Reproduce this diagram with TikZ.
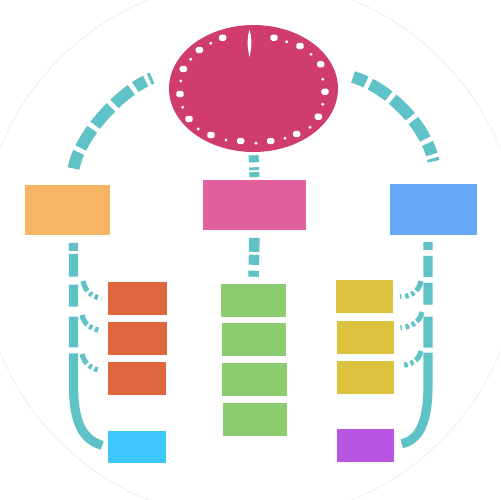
\documentclass[tikz,border=0pt]{standalone}
\usetikzlibrary{shapes.geometric}
\definecolor{ellc}{HTML}{D03C6C}
\definecolor{tealc}{HTML}{5FC2C7}
\definecolor{orangec}{HTML}{F5B565}
\definecolor{pinkc}{HTML}{E35E9C}
\definecolor{bluec}{HTML}{66A8F6}
\definecolor{greenc}{HTML}{8BCC6F}
\definecolor{redc}{HTML}{DE673D}
\definecolor{cyanc}{HTML}{3DC7FA}
\definecolor{yellowc}{HTML}{DDC23E}
\definecolor{purplec}{HTML}{B856E3}
\definecolor{bgcirc}{HTML}{F1EEE2}
\tikzset{
  boxnode/.style={rectangle, inner sep=0pt, outer sep=0pt},
  link/.style={draw=tealc},
  arcL/.style={link, line width=6.8pt,
    dash pattern=on 1.7pt off 2.3pt on 6.8pt off 2.8pt on 12.5pt off 2.8pt on 13.6pt off 2.8pt on 12.5pt off 2.8pt on 9.6pt off 20pt},
  arcR/.style={link, line width=6.8pt,
    dash pattern=on 7.9pt off 2.8pt on 12.5pt off 2.8pt on 14.2pt off 2.8pt on 12.5pt off 2.8pt on 6.8pt off 2.3pt on 1.7pt off 20pt},
  trunkL/.style={link, line width=5.2pt,
    dash pattern=on 0pt off 4.5pt on 4.5pt off 1.7pt on 13pt off 4.5pt on 12.5pt off 5.7pt on 17.6pt off 3.4pt on 200pt},
  trunkR/.style={link, line width=5.2pt,
    dash pattern=on 0pt off 4pt on 4.5pt off 3.4pt on 11.9pt off 3.4pt on 12.5pt off 6.8pt on 17.6pt off 2.8pt on 200pt},
  branch/.style={link, line width=2.9pt,
    dash pattern=on 6.2pt off 1.7pt on 1.8pt off 1.7pt on 2pt off 2.2pt on 2.5pt off 20pt},
  bigdot/.style={fill=white, rounded corners=1pt},
}
\begin{document}
\begin{tikzpicture}[x=0.02cm,y=-0.02cm]
\useasboundingbox (0,0) rectangle (500,500);
\clip (0,0) rectangle (500,500);
\fill[white] (0,0) rectangle (500,500);
\draw[bgcirc, line width=0.45pt] (250,250) circle (270);

% top ellipse
\node[ellipse, fill=ellc, inner sep=0pt, minimum width=3.38cm, minimum height=2.54cm] (ell) at (253.5,88.5) {};

% boxes
\node[boxnode, fill=orangec, minimum width=1.7cm, minimum height=1cm] (orange) at (67.5,210) {};
\node[boxnode, fill=pinkc, minimum width=2.06cm, minimum height=1cm] (pink) at (254.5,205) {};
\node[boxnode, fill=bluec, minimum width=1.74cm, minimum height=1.02cm] (blue) at (433.5,209.5) {};

\node[boxnode, fill=greenc, minimum width=1.3cm, minimum height=0.66cm] (g1) at (253.5,300.5) {};
\node[boxnode, fill=greenc, minimum width=1.3cm, minimum height=0.66cm] (g2) at (254,339.5) {};
\node[boxnode, fill=greenc, minimum width=1.3cm, minimum height=0.66cm] (g3) at (254.5,379.5) {};
\node[boxnode, fill=greenc, minimum width=1.3cm, minimum height=0.66cm] (g4) at (255,419.5) {};

\node[boxnode, fill=redc, minimum width=1.18cm, minimum height=0.66cm] (r1) at (137.5,298) {};
\node[boxnode, fill=redc, minimum width=1.18cm, minimum height=0.66cm] (r2) at (137.5,338.5) {};
\node[boxnode, fill=redc, minimum width=1.18cm, minimum height=0.66cm] (r3) at (137,378.5) {};
\node[boxnode, fill=cyanc, minimum width=1.16cm, minimum height=0.64cm] (cy) at (137,447) {};

\node[boxnode, fill=yellowc, minimum width=1.14cm, minimum height=0.66cm] (y1) at (364.5,296.5) {};
\node[boxnode, fill=yellowc, minimum width=1.14cm, minimum height=0.66cm] (y2) at (365,337.5) {};
\node[boxnode, fill=yellowc, minimum width=1.14cm, minimum height=0.66cm] (y3) at (365,377.5) {};
\node[boxnode, fill=purplec, minimum width=1.14cm, minimum height=0.66cm] (pu) at (365.5,445.5) {};

% white dots on the ellipse
\foreach \x/\y in {222.7/37.7,199.3/50,183.3/69,180/94,189/119,211/135,240.7/141,270.7/141,296.7/134,318.3/116.7,325/91.7,320.7/64.3,300/46,274/37.7}
  \fill[bigdot] (\x-3.7,\y-3.1) rectangle (\x+3.7,\y+3.1);
\foreach \x/\y in {210.7/43.3,190.7/59.3,180.7/81,182.7/107.3,198.3/129,226/140,256/143.3,285/138.3,310/127.3,322.7/104.3,322.7/79.3,311/54.3,286.7/41.7}
  \fill[white] (\x,\y) circle (1.6);
\fill[white] (249.5,30) .. controls (252.2,38) and (251.8,48) .. (249.5,57) .. controls (247.2,48) and (246.8,38) .. (249.5,30);

% connectors
\coordinate (Ls) at (152,78);
\coordinate (Rs) at (353,77);
\draw[arcL, shorten >=7.4pt] (Ls) .. controls (118,92) and (76,140) .. ([xshift=0.09cm]orange.north);
\draw[arcR, shorten >=7.4pt] (Rs) .. controls (390,88) and (432,130) .. ([xshift=0.05cm]blue.north);

\draw[link, line width=5.7pt, dash pattern=on 0pt off 1.7pt on 4pt off 2.8pt on 1.7pt off 1.1pt on 2.8pt off 10pt] (ell.south) -- (pink.north);
\draw[link, line width=6pt, dash pattern=on 0pt off 4.5pt on 7.9pt off 1.7pt on 5.7pt off 3.4pt on 3.4pt off 10pt] (pink.south) -- (g1.north);

\draw[trunkL, shorten >=3.4pt] ([xshift=0.12cm]orange.south) -- (73.5,385) .. controls (73.5,425) and (84,440) .. (cy.west);
\draw[trunkR, shorten >=4.5pt] ([xshift=-0.11cm]blue.south) -- (428,385) .. controls (428,425) and (418,440) .. (pu.east);

\coordinate (lb1) at (83,281);
\coordinate (lb2) at (82,315);
\coordinate (lb3) at (82,354);
\coordinate (rb1) at (421,281);
\coordinate (rb2) at (422,312);
\coordinate (rb3) at (421,351);
\draw[branch, shorten >=3.4pt] (lb1) .. controls (85,292) and (94,298) .. (r1.west);
\draw[branch, shorten >=3.4pt] (lb2) .. controls (84,325) and (93,330) .. (r2.165);
\draw[branch, shorten >=3.4pt] (lb3) .. controls (84,364) and (93,370) .. (r3.165);
\draw[branch, shorten >=4pt] (rb1) .. controls (419,292) and (410,297) .. (y1.east);
\draw[branch, shorten >=4pt] (rb2) .. controls (420,322) and (411,327) .. (y2.18);
\draw[branch, shorten >=4pt] (rb3) .. controls (419,361) and (410,365) .. (y3.22);
\end{tikzpicture}
\end{document}
